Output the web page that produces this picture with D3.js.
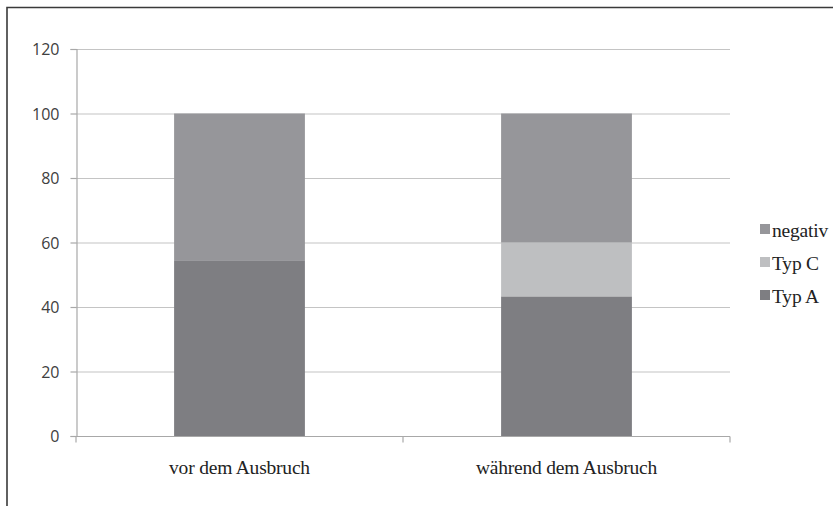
<!DOCTYPE html>
<html>
<head>
<meta charset="utf-8">
<script src="https://cdn.jsdelivr.net/npm/d3@7"></script>
<style>
  html, body { margin: 0; padding: 0; background: #fff; overflow: hidden; }
  svg { display: block; }
</style>
</head>
<body>
<svg id="chart" width="833" height="506"></svg>
<script>
// Stacked shares (percent) per period
const categories = ["vor dem Ausbruch", "während dem Ausbruch"];
const seriesNames = ["Typ A", "Typ C", "negativ"];
const typA = [54.5, 43.3];
const typC = [0, 16.7];
const negativ = [45.5, 40.0];
const yTicks = [0, 20, 40, 60, 80, 100, 120];

const colors = { "Typ A": "#7e7e82", "Typ C": "#bebfc1", "negativ": "#96969a" };
const serif = "Liberation Serif, Times New Roman, serif";

const rows = categories.map((c, i) => ({ cat: c, "Typ A": typA[i], "Typ C": typC[i], "negativ": negativ[i] }));
const stacked = d3.stack().keys(seriesNames)(rows);

const svg = d3.select("#chart");
const plotLeft = 76, plotRight = 730, plotTop = 49, plotBottom = 436;

const x = d3.scaleBand().domain(categories).range([plotLeft, plotRight]).paddingInner(0.6).paddingOuter(0.3);
const y = d3.scaleLinear().domain([0, 120]).range([plotBottom, plotTop]);

// outer frame (top and left edges visible)
svg.append("path").attr("d", "M7,506 V7.5 H833")
  .attr("fill", "none").attr("stroke", "#3a3a3a").attr("stroke-width", 1.6);

// gridlines
svg.append("g").selectAll("line").data(yTicks.filter(t => t > 0)).join("line")
  .attr("x1", plotLeft).attr("x2", plotRight)
  .attr("y1", d => y(d) + 0.5).attr("y2", d => y(d) + 0.5)
  .attr("stroke", "#c4c4c4").attr("stroke-width", 1.2);

// bars
svg.append("g").selectAll("g").data(stacked).join("g")
  .attr("fill", d => colors[d.key])
  .selectAll("rect").data(d => d.filter(s => s[1] - s[0] > 0)).join("rect")
  .attr("x", d => x(d.data.cat))
  .attr("width", x.bandwidth())
  .attr("y", d => y(d[1]))
  .attr("height", d => y(d[0]) - y(d[1]));

// y axis
const yAxis = svg.append("g").attr("transform", `translate(${plotLeft + 0.5},0)`)
  .call(d3.axisLeft(y).tickValues(yTicks).tickSize(6).tickPadding(11));
yAxis.select(".domain").attr("stroke", "#a8a8a8").attr("stroke-width", 1.2);
yAxis.selectAll(".tick line").attr("stroke", "#a8a8a8").attr("stroke-width", 1.2);
yAxis.selectAll("text").attr("font-family", "Open Sans, sans-serif").attr("font-size", 16)
  .attr("fill", "#404040").attr("dy", "0.36em");

// x axis
const xStep = x.step();
const xAxisG = svg.append("g").attr("transform", `translate(0,${plotBottom + 0.5})`);
xAxisG.append("line").attr("x1", plotLeft).attr("x2", plotRight).attr("stroke", "#a8a8a8").attr("stroke-width", 1.2);
const boundaries = [plotLeft, plotLeft + xStep, plotRight];
xAxisG.selectAll(".tk").data(boundaries).join("line").attr("class", "tk")
  .attr("x1", d => d).attr("x2", d => d).attr("y1", 0).attr("y2", 6)
  .attr("stroke", "#a8a8a8").attr("stroke-width", 1.2);
svg.append("g").selectAll("text").data(categories).join("text")
  .attr("x", d => x(d) + x.bandwidth() / 2)
  .attr("y", 474)
  .attr("text-anchor", "middle")
  .attr("font-family", serif).attr("font-size", 19.5)
  .attr("letter-spacing", -0.2)
  .attr("fill", "#222")
  .text(d => d);

// legend
const legendItems = ["negativ", "Typ C", "Typ A"];
const lg = svg.append("g").selectAll("g").data(legendItems).join("g")
  .attr("transform", (d, i) => `translate(760,${224 + i * 33})`);
lg.append("rect").attr("width", 10).attr("height", 10).attr("fill", d => colors[d]);
lg.append("text").attr("x", 12).attr("y", 13)
  .attr("font-family", serif).attr("font-size", 19.5)
  .attr("letter-spacing", -0.2)
  .attr("fill", "#222").text(d => d);
</script>
</body>
</html>
